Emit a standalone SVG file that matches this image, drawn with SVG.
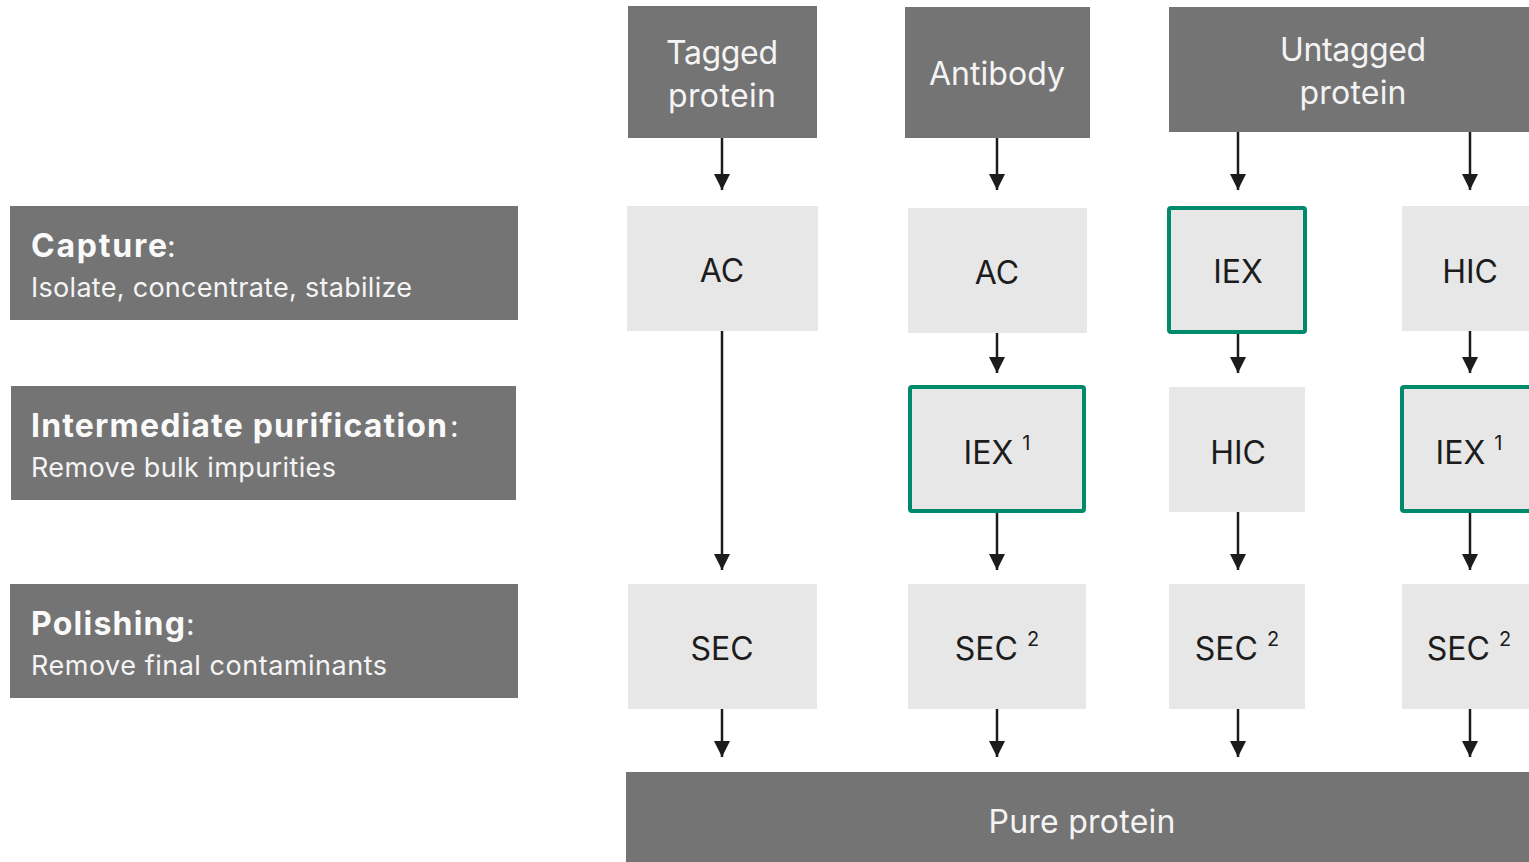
<svg xmlns="http://www.w3.org/2000/svg" width="1529" height="862" viewBox="0 0 1529 862">
<style>
.dark{fill:#747474}
.light{fill:#e7e7e7}
.hl{fill:#e7e7e7;stroke:#008a6c;stroke-width:4}
.ht{font-family:Inter,"Noto Sans",sans-serif;font-size:32px;fill:#f4f4f4;text-anchor:middle}
.nt{font-family:Inter,"Noto Sans",sans-serif;font-size:32px;fill:#1c1c1c;text-anchor:middle}
.sup{font-size:20px}
.lb{font-family:Inter,"Noto Sans",sans-serif;font-size:32px;font-weight:bold;fill:#fafafa}
.lc{font-family:Inter,"Noto Sans",sans-serif;font-size:30px;fill:#fafafa}
.ls{font-family:Inter,"Noto Sans",sans-serif;font-size:27px;fill:#f4f4f4}
.c line{stroke:#1c1c1c;stroke-width:2.5;marker-end:url(#ah)}
</style>
<defs>
<marker id="ah" viewBox="0 0 16 16" refX="16" refY="8" markerWidth="16" markerHeight="16" markerUnits="userSpaceOnUse" orient="auto">
<path d="M0,0 L16,8 L0,16 Z" fill="#1c1c1c"/>
</marker>
</defs>
<g id="stage-capture"><rect class="dark" x="10" y="206" width="508" height="114"/><text class="lb" x="31" y="257" textLength="136" lengthAdjust="spacing">Capture</text><text class="lc" x="167" y="257">:</text><text class="ls" x="31" y="297" textLength="381" lengthAdjust="spacing">Isolate, concentrate, stabilize</text></g>
<g id="stage-intermediate"><rect class="dark" x="11" y="386" width="505" height="114"/><text class="lb" x="31" y="437" textLength="416" lengthAdjust="spacing">Intermediate purification</text><text class="lc" x="450" y="437">:</text><text class="ls" x="31" y="477" textLength="305" lengthAdjust="spacing">Remove bulk impurities</text></g>
<g id="stage-polishing"><rect class="dark" x="10" y="584" width="508" height="114"/><text class="lb" x="31" y="635" textLength="154" lengthAdjust="spacing">Polishing</text><text class="lc" x="186" y="635">:</text><text class="ls" x="31" y="675" textLength="356" lengthAdjust="spacing">Remove final contaminants</text></g>

<g id="hdr-tagged"><rect class="dark" x="628" y="6" width="189" height="132"/><text class="ht" x="722" y="64" textLength="112" lengthAdjust="spacing">Tagged</text><text class="ht" x="722" y="107" textLength="108" lengthAdjust="spacing">protein</text></g>
<g id="hdr-antibody"><rect class="dark" x="905" y="7" width="185" height="131"/><text class="ht" x="997" y="85" textLength="136" lengthAdjust="spacing">Antibody</text></g>
<g id="hdr-untagged"><rect class="dark" x="1169" y="7" width="360" height="125"/><text class="ht" x="1353" y="61" textLength="146" lengthAdjust="spacing">Untagged</text><text class="ht" x="1353" y="104" textLength="107" lengthAdjust="spacing">protein</text></g>

<g id="n-ac1"><rect class="light" x="627" y="206" width="191" height="125"/><text class="nt" x="722" y="282">AC</text></g>
<g id="n-ac2"><rect class="light" x="908" y="208" width="179" height="125"/><text class="nt" x="997" y="284">AC</text></g>
<g id="n-iex3"><rect class="hl" x="1169" y="208" width="136" height="124" rx="2"/><text class="nt" x="1238" y="283">IEX</text></g>
<g id="n-hic4"><rect class="light" x="1402" y="206" width="127" height="125"/><text class="nt" x="1470" y="283">HIC</text></g>

<g id="n-iex2"><rect class="hl" x="910" y="387" width="174" height="124" rx="2"/><text class="nt" x="997" y="464">IEX <tspan class="sup" dy="-14">1</tspan></text></g>
<g id="n-hic3"><rect class="light" x="1169" y="387" width="136" height="125"/><text class="nt" x="1238" y="464">HIC</text></g>
<g id="n-iex4"><rect class="hl" x="1402" y="387" width="140" height="124" rx="2"/><text class="nt" x="1469" y="464">IEX <tspan class="sup" dy="-14">1</tspan></text></g>

<g id="n-sec1"><rect class="light" x="628" y="584" width="189" height="125"/><text class="nt" x="722" y="660">SEC</text></g>
<g id="n-sec2"><rect class="light" x="908" y="584" width="178" height="125"/><text class="nt" x="997" y="660">SEC <tspan class="sup" dy="-14">2</tspan></text></g>
<g id="n-sec3"><rect class="light" x="1169" y="584" width="136" height="125"/><text class="nt" x="1237" y="660">SEC <tspan class="sup" dy="-14">2</tspan></text></g>
<g id="n-sec4"><rect class="light" x="1402" y="584" width="127" height="125"/><text class="nt" x="1469" y="660">SEC <tspan class="sup" dy="-14">2</tspan></text></g>

<g id="n-pure"><rect class="dark" x="626" y="772" width="903" height="90"/><text class="ht" x="1082" y="833" textLength="187" lengthAdjust="spacing">Pure protein</text></g>

<g id="connectors" class="c">
<line x1="722" y1="138" x2="722" y2="190"/>
<line x1="722" y1="331" x2="722" y2="570"/>
<line x1="722" y1="709" x2="722" y2="757"/>
<line x1="997" y1="138" x2="997" y2="190"/>
<line x1="997" y1="333" x2="997" y2="373"/>
<line x1="997" y1="513" x2="997" y2="570"/>
<line x1="997" y1="709" x2="997" y2="757"/>
<line x1="1238" y1="132" x2="1238" y2="190"/>
<line x1="1238" y1="334" x2="1238" y2="373"/>
<line x1="1238" y1="512" x2="1238" y2="570"/>
<line x1="1238" y1="709" x2="1238" y2="757"/>
<line x1="1470" y1="132" x2="1470" y2="190"/>
<line x1="1470" y1="331" x2="1470" y2="373"/>
<line x1="1470" y1="513" x2="1470" y2="570"/>
<line x1="1470" y1="709" x2="1470" y2="757"/>
</g>
</svg>
